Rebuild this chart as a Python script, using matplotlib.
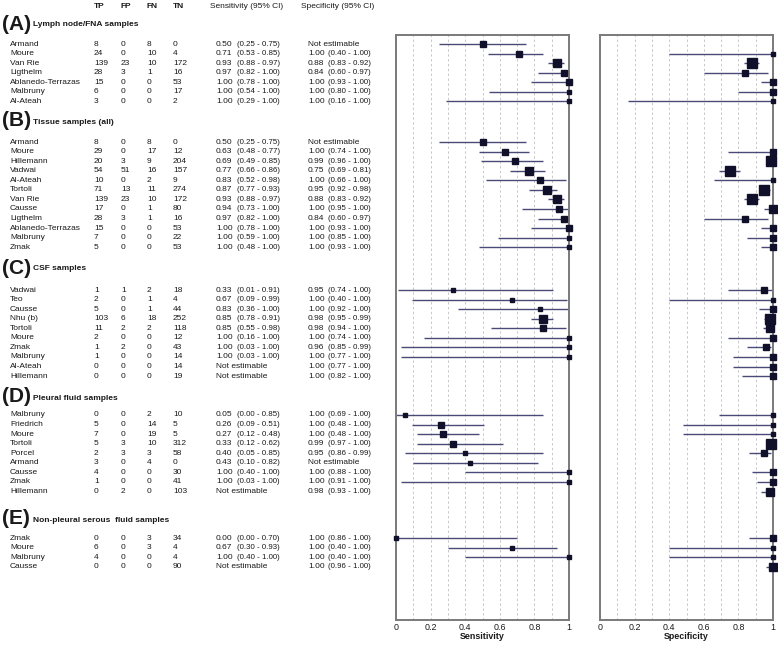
import matplotlib
matplotlib.use("Agg")
import matplotlib.pyplot as plt
from matplotlib import font_manager
import numpy as np

NE = None

# ---------------- data ----------------
sec_letters = ["(A)", "(B)", "(C)", "(D)", "(E)"]
sec_titles = ["Lymph node/FNA samples", "Tissue samples (all)", "CSF samples",
              "Pleural fluid samples", "Non-pleural serous  fluid samples"]

A_names = ["Armand", "Moure", "Van Rie", "Ligthelm", "Ablanedo-Terrazas", "Malbruny", "Al-Ateah"]
A_tp = [8, 24, 139, 28, 15, 6, 3]
A_fp = [0, 0, 23, 3, 0, 0, 0]
A_fn = [8, 10, 10, 1, 0, 0, 0]
A_tn = [0, 4, 172, 16, 53, 17, 2]
A_sens = [(0.50, 0.25, 0.75), (0.71, 0.53, 0.85), (0.93, 0.88, 0.97), (0.97, 0.82, 1.00),
          (1.00, 0.78, 1.00), (1.00, 0.54, 1.00), (1.00, 0.29, 1.00)]
A_spec = [NE, (1.00, 0.40, 1.00), (0.88, 0.83, 0.92), (0.84, 0.60, 0.97),
          (1.00, 0.93, 1.00), (1.00, 0.80, 1.00), (1.00, 0.16, 1.00)]

B_names = ["Armand", "Moure", "Hillemann", "Vadwai", "Al-Ateah", "Tortoli", "Van Rie", "Causse",
           "Ligthelm", "Ablanedo-Terrazas", "Malbruny", "Zmak"]
B_tp = [8, 29, 20, 54, 10, 71, 139, 17, 28, 15, 7, 5]
B_fp = [0, 0, 3, 51, 0, 13, 23, 0, 3, 0, 0, 0]
B_fn = [8, 17, 9, 16, 2, 11, 10, 1, 1, 0, 0, 0]
B_tn = [0, 12, 204, 157, 9, 274, 172, 80, 16, 53, 22, 53]
B_sens = [(0.50, 0.25, 0.75), (0.63, 0.48, 0.77), (0.69, 0.49, 0.85), (0.77, 0.66, 0.86),
          (0.83, 0.52, 0.98), (0.87, 0.77, 0.93), (0.93, 0.88, 0.97), (0.94, 0.73, 1.00),
          (0.97, 0.82, 1.00), (1.00, 0.78, 1.00), (1.00, 0.59, 1.00), (1.00, 0.48, 1.00)]
B_spec = [NE, (1.00, 0.74, 1.00), (0.99, 0.96, 1.00), (0.75, 0.69, 0.81),
          (1.00, 0.66, 1.00), (0.95, 0.92, 0.98), (0.88, 0.83, 0.92), (1.00, 0.95, 1.00),
          (0.84, 0.60, 0.97), (1.00, 0.93, 1.00), (1.00, 0.85, 1.00), (1.00, 0.93, 1.00)]

C_names = ["Vadwai", "Teo", "Causse", "Nhu (b)", "Tortoli", "Moure", "Zmak", "Malbruny",
           "Al-Ateah", "Hillemann"]
C_tp = [1, 2, 5, 103, 11, 2, 1, 1, 0, 0]
C_fp = [1, 0, 0, 6, 2, 0, 2, 0, 0, 0]
C_fn = [2, 1, 1, 18, 2, 0, 0, 0, 0, 0]
C_tn = [18, 4, 44, 252, 118, 12, 43, 14, 14, 19]
C_sens = [(0.33, 0.01, 0.91), (0.67, 0.09, 0.99), (0.83, 0.36, 1.00), (0.85, 0.78, 0.91),
          (0.85, 0.55, 0.98), (1.00, 0.16, 1.00), (1.00, 0.03, 1.00), (1.00, 0.03, 1.00),
          NE, NE]
C_spec = [(0.95, 0.74, 1.00), (1.00, 0.40, 1.00), (1.00, 0.92, 1.00), (0.98, 0.95, 0.99),
          (0.98, 0.94, 1.00), (1.00, 0.74, 1.00), (0.96, 0.85, 0.99), (1.00, 0.77, 1.00),
          (1.00, 0.77, 1.00), (1.00, 0.82, 1.00)]

D_names = ["Malbruny", "Friedrich", "Moure", "Tortoli", "Porcel", "Armand", "Causse", "Zmak",
           "Hillemann"]
D_tp = [0, 5, 7, 5, 2, 3, 4, 1, 0]
D_fp = [0, 0, 0, 3, 3, 0, 0, 0, 2]
D_fn = [2, 14, 19, 10, 3, 4, 0, 0, 0]
D_tn = [10, 5, 5, 312, 58, 0, 30, 41, 103]
D_sens = [(0.05, 0.00, 0.85), (0.26, 0.09, 0.51), (0.27, 0.12, 0.48), (0.33, 0.12, 0.62),
          (0.40, 0.05, 0.85), (0.43, 0.10, 0.82), (1.00, 0.40, 1.00), (1.00, 0.03, 1.00), NE]
D_spec = [(1.00, 0.69, 1.00), (1.00, 0.48, 1.00), (1.00, 0.48, 1.00), (0.99, 0.97, 1.00),
          (0.95, 0.86, 0.99), NE, (1.00, 0.88, 1.00), (1.00, 0.91, 1.00), (0.98, 0.93, 1.00)]

E_names = ["Zmak", "Moure", "Malbruny", "Causse"]
E_tp = [0, 6, 4, 0]
E_fp = [0, 0, 0, 0]
E_fn = [3, 3, 0, 0]
E_tn = [34, 4, 4, 90]
E_sens = [(0.00, 0.00, 0.70), (0.67, 0.30, 0.93), (1.00, 0.40, 1.00), NE]
E_spec = [(1.00, 0.86, 1.00), (1.00, 0.40, 1.00), (1.00, 0.40, 1.00), (1.00, 0.96, 1.00)]

sections = [
    (A_names, A_tp, A_fp, A_fn, A_tn, A_sens, A_spec),
    (B_names, B_tp, B_fp, B_fn, B_tn, B_sens, B_spec),
    (C_names, C_tp, C_fp, C_fn, C_tn, C_sens, C_spec),
    (D_names, D_tp, D_fp, D_fn, D_tn, D_sens, D_spec),
    (E_names, E_tp, E_fp, E_fn, E_tn, E_sens, E_spec),
]

xticks = [0, 0.2, 0.4, 0.6, 0.8, 1]
xticklabels = ["0", "0.2", "0.4", "0.6", "0.8", "1"]

# ---------------- fonts ----------------
def has_font(name):
    try:
        font_manager.findfont(font_manager.FontProperties(family=name), fallback_to_default=False)
        return True
    except Exception:
        return False

REG = ['Liberation Sans', 'DejaVu Sans']
if has_font('Liberation Sans Narrow'):
    NAR = ['Liberation Sans Narrow', 'Liberation Sans', 'DejaVu Sans']
    fs = 7.0
else:
    NAR = REG
    fs = 6.0
plt.rcParams['font.family'] = REG

# ---------------- layout (pixels) ----------------
W, H = 778, 645
col_header_y = 6
header_y = [24, 121, 268, 397, 519]
first_row_y = [44, 142, 290, 415, 538]
row_step = 9.57
x_name, x_tp, x_fp, x_fn, x_tn = 10, 94, 121, 147, 173
x_se, x_seci, x_sp, x_spci = 216, 237, 308, 328
plot_top, plot_bot = 35, 620
sens_l, sens_r = 396, 569
spec_l, spec_r = 600, 773

TXT = '#1a1a1a'
LINE = '#4a4a78'
MARK = '#10102a'

fig = plt.figure(figsize=(W / 100, H / 100), dpi=100)
bg = fig.add_axes([0, 0, 1, 1])
bg.set_xlim(0, W)
bg.set_ylim(H, 0)
bg.axis('off')

def T(x, y, s, fam=None, **kw):
    kw.setdefault('fontsize', fs)
    kw.setdefault('color', TXT)
    kw.setdefault('va', 'center')
    kw.setdefault('ha', 'left')
    bg.text(x, y, s, family=fam or NAR, **kw)

def pax(l, r):
    ax = fig.add_axes([l / W, 1 - plot_bot / H, (r - l) / W, (plot_bot - plot_top) / H])
    ax.set_xlim(0, 1)
    ax.set_ylim(plot_bot, plot_top)
    ax.set_yticks([])
    ax.set_xticks(xticks)
    ax.set_xticklabels(xticklabels, fontsize=fs + 0.4, color=TXT, family=NAR)
    ax.tick_params(axis='x', length=0, pad=2.5)
    for s in ax.spines.values():
        s.set_color('#7a7a7a')
        s.set_linewidth(1.4)
    for g in np.arange(0.1, 1.0, 0.1):
        ax.axvline(g, color='#c8c8c8', lw=0.7, ls=(0, (2.5, 2.5)), zorder=0)
    return ax

ax_se = pax(sens_l, sens_r)
ax_sp = pax(spec_l, spec_r)
ax_se.set_xlabel("Sensitivity", fontsize=fs + 0.4, fontweight='bold', color=TXT, labelpad=0, family=NAR)
ax_sp.set_xlabel("Specificity", fontsize=fs + 0.4, fontweight='bold', color=TXT, labelpad=0, family=NAR)

# column headers
for x, t in [(x_tp, "TP"), (x_fp, "FP"), (x_fn, "FN"), (x_tn, "TN")]:
    T(x, col_header_y, t, fontweight='bold')
T(210, col_header_y, "Sensitivity (95% CI)")
T(301, col_header_y, "Specificity (95% CI)")

def msize(n):
    return min(2.6 + 0.3 * np.sqrt(n), 7.2)

for si, (names, tp, fp, fn, tn, sens, spec) in enumerate(sections):
    hy = header_y[si]
    bg.text(2, hy, sec_letters[si], fontsize=15, fontweight='bold', color=TXT, va='center', ha='left',
            family=REG)
    T(33, hy + 1, sec_titles[si], fontweight='bold')
    for i, nm in enumerate(names):
        y = first_row_y[si] + i * row_step
        T(x_name, y, nm)
        T(x_tp, y, str(tp[i]))
        T(x_fp, y, str(fp[i]))
        T(x_fn, y, str(fn[i]))
        T(x_tn, y, str(tn[i]))
        for val, xe, xc, ax, n in [(sens[i], x_se, x_seci, ax_se, tp[i] + fn[i]),
                                    (spec[i], x_sp, x_spci, ax_sp, fp[i] + tn[i])]:
            if val is None:
                T(xe, y, "Not estimable")
                continue
            e, lo, hi = val
            T(xe, y, f"{e:.2f}")
            T(xc, y, f"({lo:.2f} - {hi:.2f})", fam=REG, fontsize=fs - 0.3)
            ax.plot([lo, hi], [y, y], color=LINE, lw=1.0, solid_capstyle='butt', clip_on=False, zorder=2)
            ax.plot([e], [y], marker='s', ms=msize(n), color=MARK, mec=MARK, clip_on=False, zorder=3)

fig.savefig("out.png", dpi=100)
